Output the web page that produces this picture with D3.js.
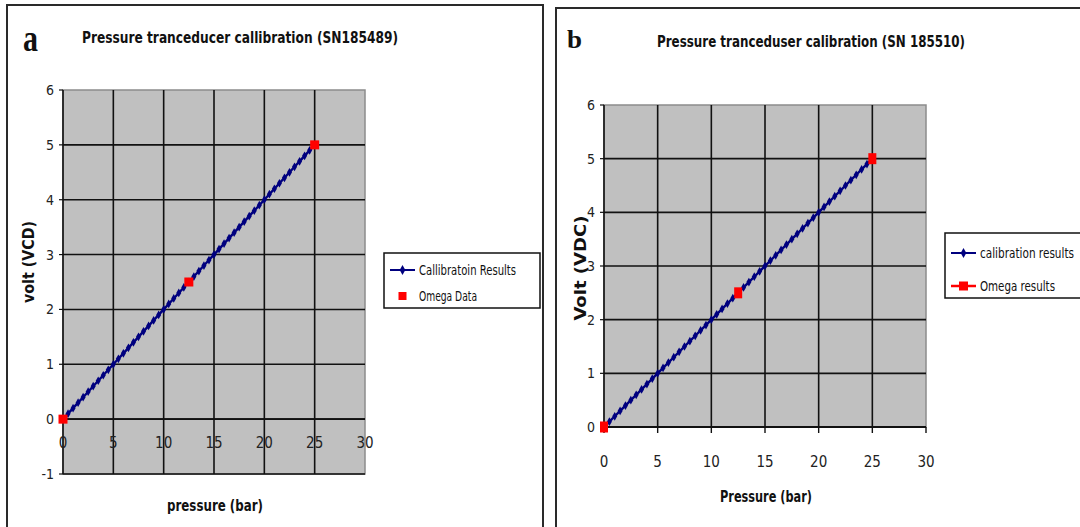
<!DOCTYPE html>
<html>
<head>
<meta charset="utf-8">
<script src="https://cdn.jsdelivr.net/npm/d3@7"></script>
<style>
  body { margin: 0; background: #fff; }
  svg { display: block; }
</style>
</head>
<body>
<div id="chart"></div>
<script>
// ---- data ----
const xTicks = [0, 5, 10, 15, 20, 25, 30];
const yTicksA = [-1, 0, 1, 2, 3, 4, 5, 6];
const yTicksB = [0, 1, 2, 3, 4, 5, 6];

// calibration runs (bar -> volt)
const calPressureA = [0, 0.5, 1, 1.5, 2, 2.5, 3, 3.5, 4, 4.5, 5, 5.5, 6, 6.5, 7, 7.5, 8, 8.5, 9, 9.5,
  10, 10.5, 11, 11.5, 12, 12.5, 13, 13.5, 14, 14.5, 15, 15.5, 16, 16.5, 17, 17.5, 18, 18.5, 19, 19.5,
  20, 20.5, 21, 21.5, 22, 22.5, 23, 23.5, 24, 24.5, 25];
const calVoltA = [0, 0.1, 0.2, 0.3, 0.4, 0.5, 0.6, 0.7, 0.8, 0.9, 1.0, 1.1, 1.2, 1.3, 1.4, 1.5, 1.6, 1.7, 1.8, 1.9,
  2.0, 2.1, 2.2, 2.3, 2.4, 2.5, 2.6, 2.7, 2.8, 2.9, 3.0, 3.1, 3.2, 3.3, 3.4, 3.5, 3.6, 3.7, 3.8, 3.9,
  4.0, 4.1, 4.2, 4.3, 4.4, 4.5, 4.6, 4.7, 4.8, 4.9, 5.0];
const calPressureB = [0, 0.5, 1, 1.5, 2, 2.5, 3, 3.5, 4, 4.5, 5, 5.5, 6, 6.5, 7, 7.5, 8, 8.5, 9, 9.5,
  10, 10.5, 11, 11.5, 12, 12.5, 13, 13.5, 14, 14.5, 15, 15.5, 16, 16.5, 17, 17.5, 18, 18.5, 19, 19.5,
  20, 20.5, 21, 21.5, 22, 22.5, 23, 23.5, 24, 24.5, 25];
const calVoltB = [0, 0.1, 0.2, 0.3, 0.4, 0.5, 0.6, 0.7, 0.8, 0.9, 1.0, 1.1, 1.2, 1.3, 1.4, 1.5, 1.6, 1.7, 1.8, 1.9,
  2.0, 2.1, 2.2, 2.3, 2.4, 2.5, 2.6, 2.7, 2.8, 2.9, 3.0, 3.1, 3.2, 3.3, 3.4, 3.5, 3.6, 3.7, 3.8, 3.9,
  4.0, 4.1, 4.2, 4.3, 4.4, 4.5, 4.6, 4.7, 4.8, 4.9, 5.0];

// Omega reference points
const omegaPressure = [0, 12.5, 25];
const omegaVoltA = [0, 2.5, 5];
const omegaVoltB = [0, 2.5, 5];

const NARROW = "'Liberation Sans Narrow', 'Arial Narrow', 'DejaVu Sans Condensed', sans-serif";
const SERIF = "'Liberation Serif', 'DejaVu Serif', serif";
const NAVY = "#00007f";

const svg = d3.select("#chart").append("svg")
  .attr("width", 1080)
  .attr("height", 527)
  .attr("viewBox", "0 0 1080 527");

svg.append("rect").attr("width", 1080).attr("height", 527).attr("fill", "#fff");

// panel frames
svg.append("rect").attr("x", 7).attr("y", 5).attr("width", 536).attr("height", 530)
  .attr("fill", "none").attr("stroke", "#2a2a2a").attr("stroke-width", 2);
svg.append("rect").attr("x", 556).attr("y", 8).attr("width", 540).attr("height", 530)
  .attr("fill", "none").attr("stroke", "#2a2a2a").attr("stroke-width", 2);

function zip(xs, ys) { return xs.map((x, i) => ({ x: x, y: ys[i] })); }

function drawPanel(o) {
  const x = d3.scaleLinear().domain([0, 30]).range(o.xRange);
  const y = d3.scaleLinear().domain(o.yDomain).range(o.yRange);
  const g = svg.append("g");

  // plot area
  g.append("rect")
    .attr("x", x(0)).attr("y", y(o.yDomain[1]))
    .attr("width", x(30) - x(0)).attr("height", y(o.yDomain[0]) - y(o.yDomain[1]))
    .attr("fill", "#c0c0c0").attr("stroke", "#8c8c8c").attr("stroke-width", 1.5);

  // gridlines
  g.selectAll(".vg").data(xTicks.filter(t => t > 0 && t < 30)).join("line")
    .attr("x1", d => x(d)).attr("x2", d => x(d))
    .attr("y1", y(o.yDomain[0])).attr("y2", y(o.yDomain[1]))
    .attr("stroke", "#111").attr("stroke-width", 1.6);
  g.selectAll(".hg").data(o.yTicks.filter(t => t < o.yDomain[1])).join("line")
    .attr("x1", x(0)).attr("x2", x(30))
    .attr("y1", d => y(d)).attr("y2", d => y(d))
    .attr("stroke", "#111").attr("stroke-width", 1.6);

  // y axis
  g.append("line").attr("x1", x(0)).attr("x2", x(0))
    .attr("y1", y(o.yDomain[0])).attr("y2", y(o.yDomain[1]))
    .attr("stroke", "#111").attr("stroke-width", 1.6);
  g.selectAll(".yt").data(o.yTicks).join("line")
    .attr("x1", x(0) - 4).attr("x2", x(0))
    .attr("y1", d => y(d)).attr("y2", d => y(d))
    .attr("stroke", "#111").attr("stroke-width", 1.2);
  g.selectAll(".yl").data(o.yTicks).join("text")
    .attr("x", x(0) - o.yLabelGap).attr("y", d => y(d) + 5)
    .attr("text-anchor", "end")
    .attr("font-family", NARROW).attr("font-size", 14).attr("fill", "#222")
    .text(d => d);

  // x axis at 0
  g.append("line").attr("x1", x(0)).attr("x2", x(30))
    .attr("y1", y(0)).attr("y2", y(0))
    .attr("stroke", "#111").attr("stroke-width", 1.8);
  if (o.xTickMarks) {
    g.selectAll(".xt").data(xTicks).join("line")
      .attr("x1", d => x(d)).attr("x2", d => x(d))
      .attr("y1", y(0)).attr("y2", y(0) + 6)
      .attr("stroke", "#111").attr("stroke-width", 1.4);
  }
  g.selectAll(".xl").data(xTicks).join("text")
    .attr("x", d => x(d)).attr("y", o.xLabelY)
    .attr("text-anchor", "middle")
    .attr("font-family", NARROW).attr("font-size", 15).attr("fill", "#222")
    .text(d => d);

  // calibration series
  const pts = zip(o.calP, o.calV);
  g.append("path").datum(pts)
    .attr("fill", "none").attr("stroke", NAVY).attr("stroke-width", 2.4)
    .attr("d", d3.line().x(d => x(d.x)).y(d => y(d.y)));
  g.selectAll(".cm").data(pts).join("path")
    .attr("transform", d => `translate(${x(d.x)},${y(d.y)})`)
    .attr("d", d3.symbol(d3.symbolDiamond, 22)())
    .attr("fill", NAVY);

  // omega points
  const om = zip(omegaPressure, o.omegaV);
  g.selectAll(".om").data(om).join("rect")
    .attr("x", d => x(d.x) - o.omW / 2).attr("y", d => y(d.y) - o.omH / 2)
    .attr("width", o.omW).attr("height", o.omH)
    .attr("fill", "#ff0000");

  // titles and axis labels
  g.append("text").attr("x", o.titleX).attr("y", o.titleY)
    .attr("font-family", NARROW).attr("font-weight", "bold").attr("font-size", 16).attr("fill", "#111")
    .attr("textLength", o.titleLen).attr("lengthAdjust", "spacingAndGlyphs")
    .text(o.title);
  g.append("text").attr("x", o.letterX).attr("y", o.letterY)
    .attr("font-family", SERIF).attr("font-weight", "bold").attr("font-size", o.letterSize).attr("fill", "#111")
    .attr("textLength", 15).attr("lengthAdjust", "spacingAndGlyphs")
    .text(o.letter);
  g.append("text").attr("x", o.xTitleX).attr("y", o.xTitleY)
    .attr("text-anchor", "middle")
    .attr("font-family", NARROW).attr("font-weight", "bold").attr("font-size", 15).attr("fill", "#111")
    .attr("textLength", o.xTitleLen).attr("lengthAdjust", "spacingAndGlyphs")
    .text(o.xTitle);
  g.append("text")
    .attr("transform", `translate(${o.yTitleX},${o.yTitleY}) rotate(-90)`)
    .attr("text-anchor", "middle")
    .attr("font-family", NARROW).attr("font-weight", "bold").attr("font-size", 15).attr("fill", "#111")
    .attr("textLength", o.yTitleLen).attr("lengthAdjust", "spacingAndGlyphs")
    .text(o.yTitle);

  // legend
  const L = o.legend;
  g.append("rect").attr("x", L.x).attr("y", L.y).attr("width", L.w).attr("height", L.h)
    .attr("fill", "#fff").attr("stroke", "#111").attr("stroke-width", 1.5);
  g.append("line").attr("x1", L.x + 6).attr("x2", L.x + 31)
    .attr("y1", L.y + L.r1).attr("y2", L.y + L.r1)
    .attr("stroke", NAVY).attr("stroke-width", 2);
  g.append("path").attr("transform", `translate(${L.x + 18.5},${L.y + L.r1})`)
    .attr("d", d3.symbol(d3.symbolDiamond, 28)()).attr("fill", NAVY);
  if (L.redLine) {
    g.append("line").attr("x1", L.x + 6).attr("x2", L.x + 31)
      .attr("y1", L.y + L.r2).attr("y2", L.y + L.r2)
      .attr("stroke", "#ff0000").attr("stroke-width", 2.5);
  }
  g.append("rect").attr("x", L.x + 18.5 - L.sq / 2).attr("y", L.y + L.r2 - L.sq / 2)
    .attr("width", L.sq).attr("height", L.sq).attr("fill", "#ff0000");
  L.labels.forEach((t, i) => {
    g.append("text").attr("x", L.x + 35).attr("y", L.y + (i ? L.r2 : L.r1) + 5)
      .attr("font-family", NARROW).attr("font-size", 14).attr("fill", "#111")
      .attr("textLength", L.lens[i]).attr("lengthAdjust", "spacingAndGlyphs")
      .text(t);
  });
}

drawPanel({
  xRange: [63, 365], yDomain: [-1, 6], yRange: [474, 90], yTicks: yTicksA,
  yLabelGap: 9, xLabelY: 448, xTickMarks: false,
  calP: calPressureA, calV: calVoltA, omegaV: omegaVoltA, omW: 9, omH: 9,
  title: "Pressure tranceducer callibration (SN185489)", titleX: 82, titleY: 43, titleLen: 316,
  letter: "a", letterX: 23, letterY: 51, letterSize: 38,
  xTitle: "pressure (bar)", xTitleX: 215, xTitleY: 511, xTitleLen: 96,
  yTitle: "volt (VCD)", yTitleX: 34, yTitleY: 262, yTitleLen: 82,
  legend: { x: 384, y: 253, w: 156, h: 55, r1: 17, r2: 43, sq: 8, redLine: false,
    labels: ["Callibratoin Results", "Omega Data"], lens: [97, 58] }
});

drawPanel({
  xRange: [604, 926], yDomain: [0, 6], yRange: [427, 105], yTicks: yTicksB,
  yLabelGap: 9, xLabelY: 467, xTickMarks: true,
  calP: calPressureB, calV: calVoltB, omegaV: omegaVoltB, omW: 8, omH: 11,
  title: "Pressure tranceduser calibration (SN 185510)", titleX: 657, titleY: 47, titleLen: 308,
  letter: "b", letterX: 567, letterY: 48, letterSize: 26,
  xTitle: "Pressure (bar)", xTitleX: 766, xTitleY: 502, xTitleLen: 92,
  yTitle: "Volt (VDC)", yTitleX: 586, yTitleY: 268, yTitleLen: 105,
  legend: { x: 945, y: 233, w: 145, h: 65, r1: 20, r2: 53, sq: 9, redLine: true,
    labels: ["calibration results", "Omega results"], lens: [94, 75] }
});
</script>
</body>
</html>
